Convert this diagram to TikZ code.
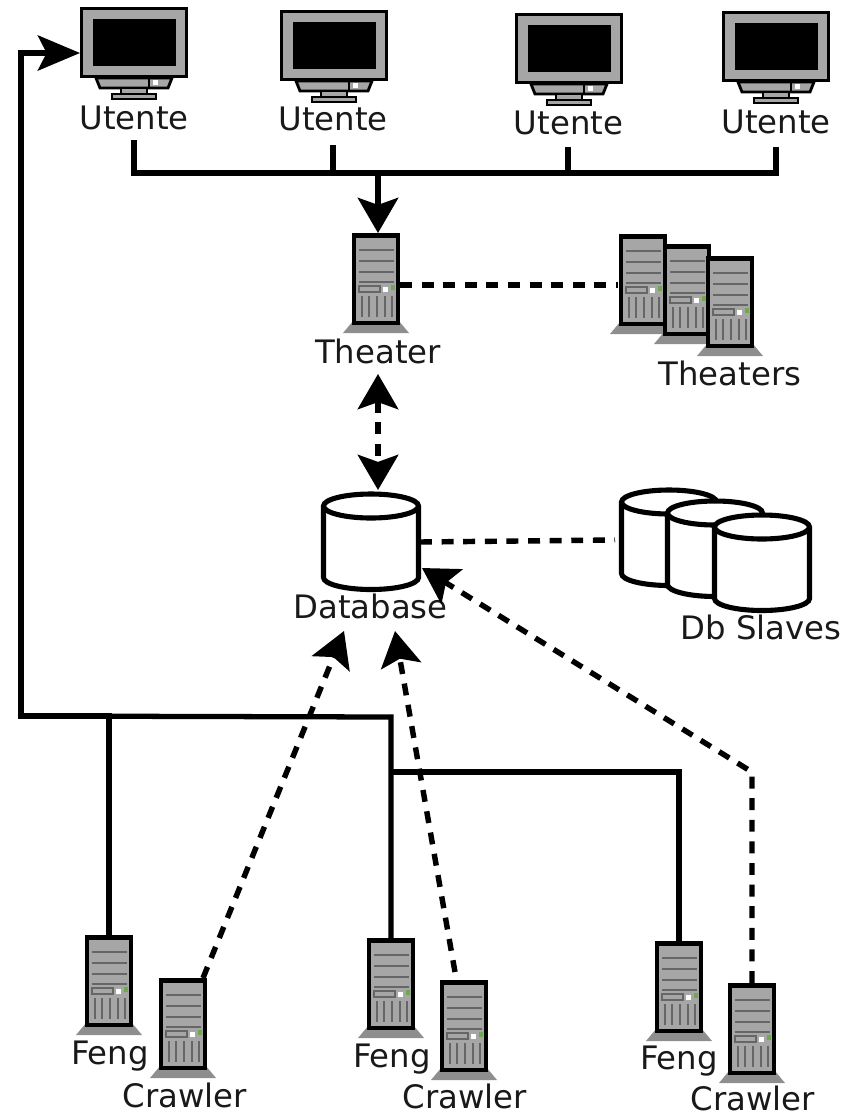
\documentclass[tikz,border=0pt]{standalone}
\usepackage{fontspec}
\setmainfont{DejaVu Sans}
\usetikzlibrary{arrows.meta}
\definecolor{boxgray}{HTML}{A6A6A6}
\definecolor{footgray}{HTML}{8E8E8E}
\definecolor{ledgreen}{HTML}{6FA84F}
\tikzset{
	wire/.style={line width=3pt},
	dashwire/.style={line width=3.1pt, dash pattern=on 6.8pt off 5.5pt},
	bigtip/.style={-{Stealth[length=20pt, width=23pt, inset=4pt]}},
	longtip/.style={-{Stealth[length=24pt, width=20pt, inset=5pt]}},
	bothtip/.style={{Stealth[length=20pt, width=23pt, inset=4pt]}-{Stealth[length=20pt, width=23pt, inset=4pt]}},
	lbl/.style={anchor=base, inner sep=0pt, font=\fontsize{18.4}{20}\selectfont, text=black!90},
	monitor/.pic={
		\draw[line width=1.6pt, fill=boxgray] (-38,70) -- (38,70) -- (34,80) -- (-34,80) -- cycle;
		\draw[line width=1.4pt, fill=boxgray] (-13,80) rectangle (13,86);
		\draw[line width=1.6pt, fill=boxgray] (-22,86) rectangle (22,91);
		\draw[line width=1.2pt] (15,70) -- (15,80);
		\fill[white] (19,72) rectangle (24,77);
		\draw[line width=1.8pt, fill=boxgray] (-52.5,0.5) rectangle (52.5,68.5);
		\fill[black] (-41,11) rectangle (42,58);
		\coordinate (-west) at (-54,45);
	},
	server/.pic={
		\fill[footgray] (-23,87) -- (23,87) -- (33,99) -- (-33,99) -- cycle;
		\draw[line width=2.6pt, fill=boxgray] (-22,1.5) rectangle (22,89);
		\draw[line width=0.9pt, black!60] (-17,16) -- (18,16) (-17,27) -- (18,27) (-17,38) -- (18,38) (-17,48) -- (18,48);
		\draw[line width=0.6pt, black!60] (-17,52) rectangle (4,58);
		\fill[white] (7,53) rectangle (12,58);
		\fill[ledgreen] (15,51) rectangle (19,56);
		\draw[line width=0.9pt, black!60] (-14,62) -- (-14,83) (-7,62) -- (-7,83) (1,62) -- (1,83) (9,62) -- (9,83) (16,62) -- (16,83);
		\coordinate (-top) at (0,-1);
		\coordinate (-ne) at (20,-1);
		\coordinate (-east) at (24,51);
		\coordinate (-west) at (-25,50);
	},
	dbcyl/.pic={
		\draw[line width=2.9pt, fill=white] (-47.5,12) -- (-47.5,83.5) arc[start angle=180, end angle=0, x radius=47.5, y radius=12] -- (47.5,12) arc[start angle=0, end angle=-180, x radius=47.5, y radius=12] -- cycle;
		\draw[line width=2.9pt] (-47.5,12) arc[start angle=180, end angle=0, x radius=47.5, y radius=12];
		\coordinate (-east) at (49,48);
		\coordinate (-west) at (-54,50);
	}
}
\begin{document}
\begin{tikzpicture}[x=0.02cm, y=-0.02cm]
	\useasboundingbox (0,0) rectangle (848,1117);
	
	\pic (u1) at (134,8) {monitor};
	\pic (u2) at (334,11) {monitor};
	\pic (u3) at (569,14) {monitor};
	\pic (u4) at (776,12) {monitor};
	\node[lbl] (lu1) at (134,129) {Utente};
	\node[lbl] (lu2) at (333,130) {Utente};
	\node[lbl] (lu3) at (568.5,134) {Utente};
	\node[lbl] (lu4) at (776,133) {Utente};
	
	\pic (th) at (376,234) {server};
	\pic (ths1) at (643,235) {server};
	\pic (ths2) at (687,245) {server};
	\pic (ths3) at (730,257) {server};
	\node[lbl] (lth) at (378,363) {Theater};
	\node[lbl] (lths) at (730,385) {Theaters};
	
	\pic (db) at (371,494) {dbcyl};
	\pic (dbs1) at (669,490) {dbcyl};
	\pic (dbs2) at (715,501) {dbcyl};
	\pic (dbs3) at (762,515) {dbcyl};
	\node[lbl] (ldb) at (370.5,618) {Database};
	\node[lbl] (ldbs) at (761,639) {Db Slaves};
	
	\pic (f1) at (109,936) {server};
	\pic (c1) at (183,979) {server};
	\pic (f2) at (391,939) {server};
	\pic (c2) at (464,981) {server};
	\pic (f3) at (679,942) {server};
	\pic (c3) at (752,984) {server};
	\node[lbl] (lf1) at (110,1064) {Feng};
	\node[lbl] (lc1) at (185,1107) {Crawler};
	\node[lbl] (lf2) at (392,1067) {Feng};
	\node[lbl] (lc2) at (465,1108) {Crawler};
	\node[lbl] (lf3) at (679,1069) {Feng};
	\node[lbl] (lc3) at (753,1110) {Crawler};
	
	\coordinate (ud1) at (134,140);
	\coordinate (ud2) at (333,145);
	\coordinate (ud3) at (568,147);
	\coordinate (ud4) at (776,147);
	\coordinate (bus) at (378,173);
	\coordinate (corner) at (21,716);
	\coordinate (fbus) at (391,717);
	\coordinate (fbus3) at (391,772);
	\coordinate (bend3) at (752,772);
	\coordinate (tharrow) at (378,374);
	\coordinate (dbarrow) at (378,490);
	\coordinate (c1tip) at (344,631);
	\coordinate (c2tip) at (395,631);
	\coordinate (c3tip) at (422,568);
	\coordinate (c2foot) at (455,972);
	
	\draw[wire] (ud1) |- (ud4 |- bus) -- (ud4);
	\draw[wire] (ud2) -- (ud2 |- bus);
	\draw[wire] (ud3) -- (ud3 |- bus);
	\draw[wire, bigtip] (bus) -- (bus |- th-top);
	
	\draw[dashwire] (th-east) -- (ths1-west);
	\draw[dashwire] (db-east) -- (dbs1-west);
	\draw[dashwire, bothtip] (tharrow) -- (dbarrow);
	
	\draw[wire, longtip] (f1-top) -- (f1-top |- corner) -- (corner) -- (corner |- u1-west) -- (u1-west);
	\draw[wire] (corner) -- (fbus) -- (f2-top);
	\draw[wire] (fbus3) -- (fbus3 -| f3-top) -- (f3-top);
	
	\draw[dashwire, bigtip] (c1-ne) -- (c1tip);
	\draw[dashwire, bigtip] (c2foot) -- (c2tip);
	\draw[dashwire, bigtip] (c3-top) -- (bend3) -- (c3tip);
\end{tikzpicture}
\end{document}
